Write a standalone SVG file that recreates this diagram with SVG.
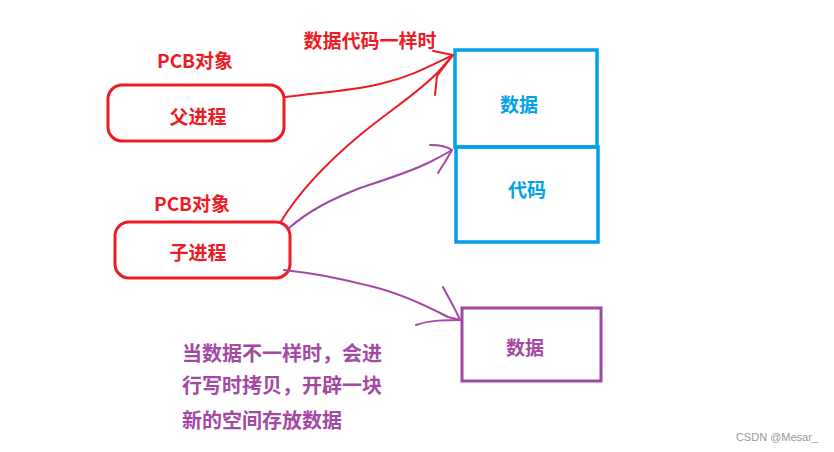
<svg xmlns="http://www.w3.org/2000/svg" width="834" height="452" viewBox="0 0 834 452">
<style>
.t{font-family:"Noto Sans CJK SC","Liberation Sans",sans-serif;font-weight:bold;font-size:19px;text-anchor:middle;dominant-baseline:central}
.red{fill:#ed1c24}.blue{fill:#00a2e8}.pur{fill:#a349a4}
.rb{fill:none;stroke:#ed1c24;stroke-width:3}
.bb{fill:none;stroke:#00a2e8;stroke-width:3.5}
.pb{fill:none;stroke:#a349a4;stroke-width:3}
.rl{fill:none;stroke:#ed1c24;stroke-width:2;stroke-linecap:round;stroke-linejoin:round}
.pl{fill:none;stroke:#a349a4;stroke-width:2;stroke-linecap:round;stroke-linejoin:round}
</style>
<rect width="834" height="452" fill="#fff"/>
<g id="parent">
<text class="t red" x="195" y="59">PCB对象</text>
<rect class="rb" x="108" y="85" width="176" height="56" rx="14"/>
<text class="t red" x="198" y="115">父进程</text>
</g>
<g id="child">
<text class="t red" x="192" y="202">PCB对象</text>
<rect class="rb" x="115" y="222" width="175" height="56" rx="14"/>
<text class="t red" x="198" y="251">子进程</text>
</g>
<g id="shared">
<rect class="bb" x="455" y="50" width="142" height="97"/>
<rect class="bb" x="456" y="147" width="142" height="95"/>
<text class="t blue" x="519" y="103">数据</text>
<text class="t blue" x="527" y="188">代码</text>
</g>
<g id="copy">
<rect class="pb" x="462" y="308" width="139" height="73"/>
<text class="t pur" x="525" y="346">数据</text>
</g>
<g id="labels">
<text class="t red" x="370" y="39" font-size="20">数据代码一样时</text>
<text class="t pur" x="182" y="352" style="text-anchor:start;font-size:20px">当数据不一样时，会进</text>
<text class="t pur" x="182" y="384" style="text-anchor:start;font-size:20px">行写时拷贝，开辟一块</text>
<text class="t pur" x="182" y="419" style="text-anchor:start;font-size:20px">新的空间存放数据</text>
<text x="818" y="441" font-family="Liberation Sans,Arial,sans-serif" font-size="11" fill="#999" text-anchor="end">CSDN @Mesar_</text>
</g>
<g id="connectors">
<path class="rl" d="M285,97 C320,92 345,92 380,84 C410,77 430,66 453,55"/>
<path class="rl" d="M280,223 C300,190 330,160 360,135 C390,110 420,92 440,70 L453,55"/>
<path class="rl" d="M433,51 L453,55 L437,76 L435,95"/>
<path class="pl" d="M289,228 C310,210 330,200 360,188 C390,178 410,172 430,162 C440,157 447,153 452,150"/>
<path class="pl" d="M430,145 C440,145 448,147 452,150 L445,162 L438,173"/>
<path class="pl" d="M284,270 C320,274 340,279 370,286 C400,293 425,305 448,317 L460,320"/>
<path class="pl" d="M443,287 C448,297 455,308 460,320 C445,320 430,320 416,325"/>
</g>
</svg>
